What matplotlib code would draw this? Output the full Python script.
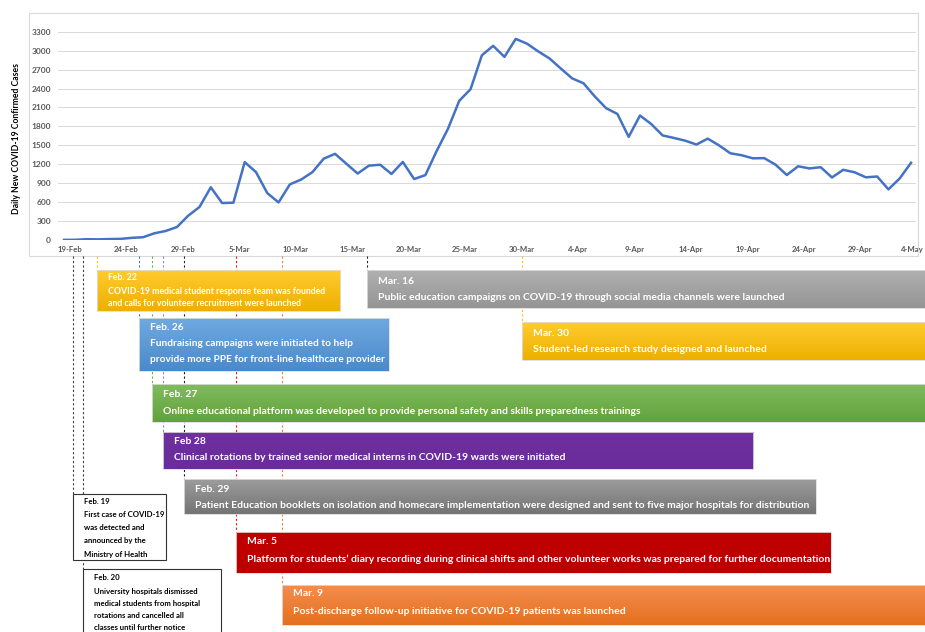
import matplotlib
matplotlib.use("Agg")
import matplotlib.pyplot as plt
import numpy as np
import pandas as pd
from matplotlib.patches import Rectangle
from matplotlib.colors import LinearSegmentedColormap
from matplotlib.transforms import ScaledTranslation

plt.rcParams["font.family"] = ["Lato", "DejaVu Sans"]

# ---- data -------------------------------------------------------------
start_date = "2020-02-19"
daily_cases = [2, 3, 13, 10, 15, 18, 34, 44, 106, 143,
               205, 385, 523, 835, 586, 591, 1234, 1076, 743, 595,
               881, 958, 1075, 1289, 1365, 1209, 1053, 1178, 1192, 1046,
               1237, 966, 1028, 1411, 1762, 2206, 2389, 2926, 3076, 2901,
               3186, 3110, 2987, 2875, 2715, 2560, 2483, 2274, 2089, 1997,
               1634, 1972, 1837, 1657, 1617, 1574, 1512, 1606, 1499, 1374,
               1343, 1294, 1297, 1194, 1030, 1168, 1134, 1153, 991, 1112,
               1073, 993, 1006, 802, 976, 1223]
y_ticks = list(range(0, 3301, 300))
y_label = "Daily New COVID-19 Confirmed Cases"

event_dates = ["2020-02-19", "2020-02-20", "2020-02-22", "2020-02-26",
               "2020-02-27", "2020-02-28", "2020-02-29", "2020-03-05",
               "2020-03-09", "2020-03-16", "2020-03-30"]
event_titles = ["Feb. 19", "Feb. 20", "Feb. 22", "Feb. 26", "Feb. 27",
                "Feb 28", "Feb. 29", "Mar. 5", "Mar. 9", "Mar. 16", "Mar. 30"]
event_texts = [
    ["First case of COVID-19", "was detected and", "announced by the",
     "Ministry of Health"],
    ["University hospitals dismissed", "medical students from hospital",
     "rotations and cancelled all", "classes until further notice"],
    ["COVID-19 medical student response team was founded",
     "and calls for volunteer recruitment were launched"],
    ["Fundraising campaigns were initiated to help",
     "provide more PPE for front-line healthcare provider"],
    ["Online educational platform was developed to provide personal safety "
     "and skills preparedness trainings"],
    ["Clinical rotations by trained senior medical interns in COVID-19 wards "
     "were initiated"],
    ["Patient Education booklets on isolation and homecare implementation were "
     "designed and sent to five major hospitals for distribution"],
    ["Platform for students\u2019 diary recording during clinical shifts and other "
     "volunteer works was prepared for further documentation"],
    ["Post-discharge follow-up initiative for COVID-19 patients was launched"],
    ["Public education campaigns on COVID-19 through social media channels "
     "were launched"],
    ["Student-led research study designed and launched"],
]

# ---- layout / style per event (pixels, y from top) ----------------------
# (x nudge, top, bottom, right, title_y, first_line_y, line_gap, fontsize,
#  top colour, bottom colour, text colour, dash colour)
event_style = [
    (8.7, 494, 560, 166, 501, 514.3, 13.3, 5.6, "white", "white", "black", "#404040"),
    (7.3, 569, 645, 221, 577, 591.7, 12.0, 5.6, "white", "white", "black", "#404040"),
    (-1, 270, 311, 340, 277, 292.0, 12.0, 6.35, "#FFCB2E", "#EDB000", "white", "#FFC000"),
    (-4, 318, 371, 389, 328, 344.0, 16.0, 7.25, "#6FA9DF", "#4A8ACB", "white", "#4472C4"),
    (-2.3, 384, 422, 935, 394.5, 412.0, 0, 7.45, "#80BC5E", "#62A23C", "white", "#70AD47"),
    (-3, 432, 469, 753, 442, 458.0, 0, 7.45, "#7030A0", "#6A2C9A", "white", "#A57BD0"),
    (7.5, 479, 514, 816, 489, 505.0, 0, 7.45, "#9C9C9C", "#747474", "white", "#202020"),
    (3, 532, 573, 831, 542, 559.0, 0, 7.45, "#C00000", "#BA0000", "white", "#E02020"),
    (3.5, 585, 625, 935, 594, 611.0, 0, 7.45, "#F38D4E", "#E5701F", "white", "#ED7D31"),
    (9, 270, 308, 935, 281, 297.0, 0, 7.45, "#B0B0B0", "#959595", "white", "#202020"),
    (6, 322, 360, 935, 333, 350.0, 0, 7.45, "#FFCB2E", "#EDB000", "white", "#FFC000"),
]

W, H = 925, 632
fig = plt.figure(figsize=(W / 100, H / 100), dpi=100)


def fig_rect(x0, y0, x1, y1):
    return [x0 / W, 1 - y1 / H, (x1 - x0) / W, (y1 - y0) / H]


# ---- line chart ---------------------------------------------------------
dates = pd.date_range(start_date, periods=len(daily_cases))
days = np.arange(len(daily_cases))

ax = fig.add_axes(fig_rect(58, 31.7, 916, 240))
ax.plot(days, daily_cases, color="#4472C4", lw=1.8, solid_joinstyle="round", zorder=3)
ax.set_xlim(-0.53, 75.44)
ax.set_ylim(0, 3300)
ax.set_yticks(y_ticks)
ax.set_yticklabels([str(v) for v in y_ticks], fontsize=6, fontweight="bold")
ax.set_xticks(days[::5])
ax.set_xticklabels([f"{d.day}-{d:%b}" for d in dates[::5]], fontsize=5.6,
                   fontweight="bold")
ax.grid(axis="y", color="#D9D9D9", lw=0.7)
ax.set_axisbelow(True)
for s in ax.spines.values():
    s.set_visible(False)
ax.tick_params(axis="both", length=0, colors="#595959")
ax.tick_params(axis="x", pad=4.5)
ax.tick_params(axis="y", pad=5)
xlabels = ax.get_xticklabels()
for i, lab in enumerate(xlabels):
    shift = 6 if i < len(xlabels) - 1 else 1
    lab.set_transform(lab.get_transform() +
                      ScaledTranslation(shift / 100, 0, fig.dpi_scale_trans))

fig.text(17 / W, 1 - 138 / H, y_label, rotation=90, ha="center", va="center",
         fontsize=6.2, fontweight="bold", color="black")

# ---- timeline overlay ---------------------------------------------------
ov = fig.add_axes([0, 0, 1, 1])
ov.set_xlim(0, W)
ov.set_ylim(H, 0)
ov.set_autoscale_on(False)
ov.axis("off")

ov.add_patch(Rectangle((29, 13), 889, 243, fill=False, ec="#D9D9D9", lw=0.8))

for date, title, lines, st in zip(event_dates, event_titles, event_texts, event_style):
    nudge, top, bot, right, ty, ly, gap, fs, c_top, c_bot, tcol, dcol = st
    d = (pd.Timestamp(date) - dates[0]).days
    x = ax.transData.transform((d, 0))[0] + nudge
    ov.plot([x, x], [256, top], color=dcol, lw=0.8, ls=(0, (2, 2)), zorder=1)

    if c_top == "white":
        ov.add_patch(Rectangle((x, top), right - x, bot - top, fc="white",
                               ec="#333333", lw=0.8, zorder=2))
    else:
        cmap = LinearSegmentedColormap.from_list("g", [c_top, c_bot])
        ov.imshow(np.linspace(0, 1, 64).reshape(-1, 1), cmap=cmap,
                  extent=(x, right, bot, top), aspect="auto", zorder=2,
                  interpolation="bilinear")
        ov.add_patch(Rectangle((x, top), right - x, bot - top, fill=False,
                               ec="#DDDDDD", lw=0.6, zorder=2.1))
    tx = x + 11
    ov.text(tx, ty, title, color=tcol, fontsize=fs, fontweight="bold",
            ha="left", va="center", zorder=3)
    for i, line in enumerate(lines):
        ov.text(tx, ly + i * gap, line, color=tcol, fontsize=fs,
                fontweight="bold", ha="left", va="center", zorder=3)

ov.set_xlim(0, W)
ov.set_ylim(H, 0)

fig.savefig("out.png", dpi=100, facecolor="white")
